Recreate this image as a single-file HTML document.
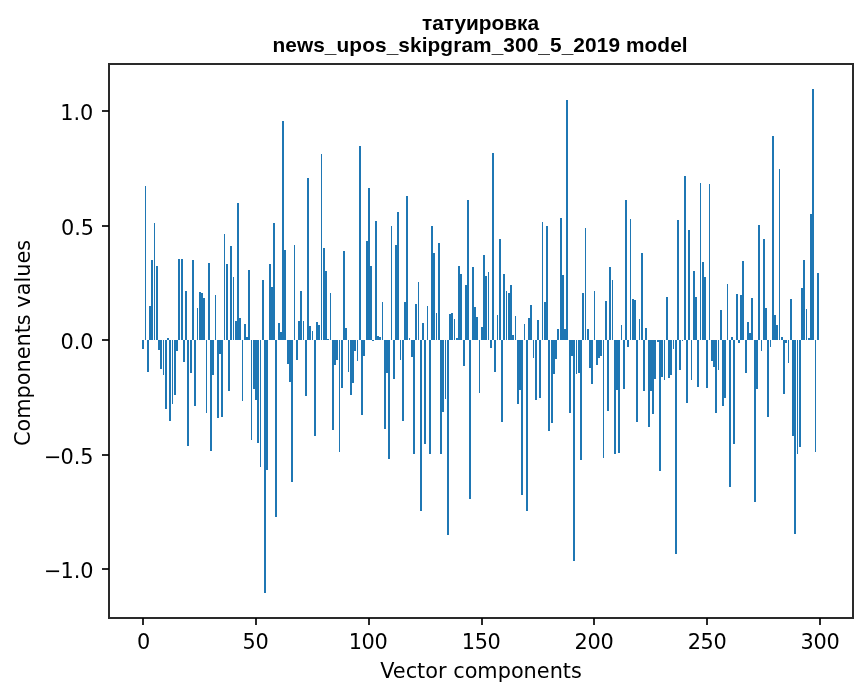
<!DOCTYPE html>
<html lang="ru"><head><meta charset="utf-8"><title>татуировка — news_upos_skipgram_300_5_2019 model</title>
<style>
html,body{margin:0;padding:0;background:#fff;}
body{width:867px;height:696px;position:relative;overflow:hidden;}
svg{position:absolute;left:0;top:0;display:block;}
.t{position:absolute;font-family:"DejaVu Sans","Liberation Sans",sans-serif;font-size:20.8333px;line-height:25px;color:#000;white-space:nowrap;}
.r{text-align:right;}
.c{width:200px;text-align:center;}
.ti{width:600px;text-align:center;font-family:"Liberation Sans","DejaVu Sans",sans-serif;font-weight:bold;}
.m{margin-right:-1px;}
.xt{letter-spacing:-0.3px;}
.t2{letter-spacing:0.09px;}
.yl{transform:translate(-50%,-50%) rotate(-90deg);transform-origin:center;}
</style></head><body>
<svg width="867" height="696" viewBox="0 0 867 696" shape-rendering="crispEdges">
<g fill="#1f77b4">
<rect x="142" y="340" width="2" height="9"/>
<rect x="145" y="186" width="1" height="154"/>
<rect x="147" y="340" width="2" height="32"/>
<rect x="149" y="306" width="2" height="34"/>
<rect x="151" y="260" width="2" height="80"/>
<rect x="154" y="223" width="1" height="117"/>
<rect x="156" y="266" width="2" height="74"/>
<rect x="158" y="340" width="2" height="10"/>
<rect x="160" y="340" width="2" height="29"/>
<rect x="163" y="340" width="1" height="35"/>
<rect x="165" y="340" width="2" height="69"/>
<rect x="167" y="338" width="2" height="2"/>
<rect x="169" y="340" width="2" height="81"/>
<rect x="172" y="340" width="1" height="64"/>
<rect x="174" y="340" width="2" height="55"/>
<rect x="176" y="340" width="2" height="11"/>
<rect x="178" y="259" width="2" height="81"/>
<rect x="181" y="259" width="2" height="81"/>
<rect x="183" y="340" width="2" height="22"/>
<rect x="185" y="291" width="2" height="49"/>
<rect x="187" y="340" width="2" height="106"/>
<rect x="190" y="340" width="2" height="33"/>
<rect x="192" y="260" width="2" height="80"/>
<rect x="194" y="340" width="2" height="66"/>
<rect x="197" y="308" width="1" height="32"/>
<rect x="199" y="292" width="2" height="48"/>
<rect x="201" y="293" width="2" height="47"/>
<rect x="203" y="298" width="2" height="42"/>
<rect x="206" y="340" width="1" height="73"/>
<rect x="208" y="263" width="2" height="77"/>
<rect x="210" y="340" width="2" height="111"/>
<rect x="212" y="340" width="2" height="35"/>
<rect x="215" y="295" width="1" height="45"/>
<rect x="217" y="340" width="2" height="78"/>
<rect x="219" y="340" width="2" height="14"/>
<rect x="221" y="340" width="2" height="77"/>
<rect x="224" y="234" width="1" height="106"/>
<rect x="226" y="264" width="2" height="76"/>
<rect x="228" y="340" width="2" height="51"/>
<rect x="230" y="246" width="2" height="94"/>
<rect x="233" y="277" width="1" height="63"/>
<rect x="235" y="321" width="2" height="19"/>
<rect x="237" y="203" width="2" height="137"/>
<rect x="239" y="318" width="2" height="22"/>
<rect x="242" y="340" width="1" height="61"/>
<rect x="244" y="324" width="2" height="16"/>
<rect x="246" y="337" width="2" height="3"/>
<rect x="248" y="270" width="2" height="70"/>
<rect x="251" y="340" width="1" height="100"/>
<rect x="253" y="340" width="2" height="49"/>
<rect x="255" y="340" width="2" height="60"/>
<rect x="257" y="340" width="2" height="103"/>
<rect x="260" y="340" width="1" height="127"/>
<rect x="262" y="280" width="2" height="60"/>
<rect x="264" y="340" width="2" height="253"/>
<rect x="266" y="340" width="2" height="130"/>
<rect x="269" y="264" width="2" height="76"/>
<rect x="271" y="287" width="2" height="53"/>
<rect x="273" y="223" width="2" height="117"/>
<rect x="275" y="340" width="2" height="177"/>
<rect x="278" y="323" width="2" height="17"/>
<rect x="280" y="332" width="2" height="8"/>
<rect x="282" y="121" width="2" height="219"/>
<rect x="284" y="250" width="2" height="90"/>
<rect x="287" y="340" width="2" height="24"/>
<rect x="289" y="340" width="2" height="42"/>
<rect x="291" y="340" width="2" height="142"/>
<rect x="294" y="245" width="1" height="95"/>
<rect x="296" y="340" width="2" height="20"/>
<rect x="298" y="321" width="2" height="19"/>
<rect x="300" y="291" width="2" height="49"/>
<rect x="303" y="321" width="1" height="19"/>
<rect x="305" y="340" width="2" height="56"/>
<rect x="307" y="178" width="2" height="162"/>
<rect x="309" y="326" width="2" height="14"/>
<rect x="312" y="331" width="1" height="9"/>
<rect x="314" y="340" width="2" height="96"/>
<rect x="316" y="322" width="2" height="18"/>
<rect x="318" y="325" width="2" height="15"/>
<rect x="321" y="154" width="1" height="186"/>
<rect x="323" y="248" width="2" height="92"/>
<rect x="325" y="271" width="2" height="69"/>
<rect x="327" y="339" width="2" height="1"/>
<rect x="330" y="293" width="1" height="47"/>
<rect x="332" y="340" width="2" height="90"/>
<rect x="334" y="340" width="2" height="25"/>
<rect x="336" y="340" width="2" height="20"/>
<rect x="339" y="340" width="1" height="112"/>
<rect x="341" y="340" width="2" height="48"/>
<rect x="343" y="251" width="2" height="89"/>
<rect x="345" y="328" width="2" height="12"/>
<rect x="348" y="340" width="1" height="32"/>
<rect x="350" y="340" width="2" height="55"/>
<rect x="352" y="340" width="2" height="43"/>
<rect x="354" y="340" width="2" height="11"/>
<rect x="357" y="340" width="1" height="21"/>
<rect x="359" y="146" width="2" height="194"/>
<rect x="361" y="340" width="2" height="75"/>
<rect x="363" y="340" width="2" height="16"/>
<rect x="366" y="241" width="2" height="99"/>
<rect x="368" y="188" width="2" height="152"/>
<rect x="370" y="266" width="2" height="74"/>
<rect x="372" y="340" width="2" height="1"/>
<rect x="375" y="221" width="2" height="119"/>
<rect x="377" y="336" width="2" height="4"/>
<rect x="379" y="337" width="2" height="3"/>
<rect x="382" y="302" width="1" height="38"/>
<rect x="384" y="340" width="2" height="89"/>
<rect x="386" y="340" width="2" height="33"/>
<rect x="388" y="340" width="2" height="119"/>
<rect x="391" y="226" width="1" height="114"/>
<rect x="393" y="340" width="2" height="39"/>
<rect x="395" y="245" width="2" height="95"/>
<rect x="397" y="212" width="2" height="128"/>
<rect x="400" y="340" width="1" height="20"/>
<rect x="402" y="340" width="2" height="81"/>
<rect x="404" y="302" width="2" height="38"/>
<rect x="406" y="196" width="2" height="144"/>
<rect x="409" y="338" width="1" height="2"/>
<rect x="411" y="340" width="2" height="17"/>
<rect x="413" y="340" width="2" height="114"/>
<rect x="415" y="304" width="2" height="36"/>
<rect x="418" y="282" width="1" height="58"/>
<rect x="420" y="340" width="2" height="171"/>
<rect x="422" y="323" width="2" height="17"/>
<rect x="424" y="340" width="2" height="104"/>
<rect x="427" y="306" width="1" height="34"/>
<rect x="429" y="340" width="2" height="114"/>
<rect x="431" y="226" width="2" height="114"/>
<rect x="433" y="253" width="2" height="87"/>
<rect x="436" y="313" width="1" height="27"/>
<rect x="438" y="243" width="2" height="97"/>
<rect x="440" y="340" width="2" height="114"/>
<rect x="442" y="340" width="2" height="72"/>
<rect x="445" y="340" width="1" height="59"/>
<rect x="447" y="340" width="2" height="195"/>
<rect x="449" y="314" width="2" height="26"/>
<rect x="451" y="313" width="2" height="27"/>
<rect x="454" y="319" width="1" height="21"/>
<rect x="456" y="338" width="2" height="2"/>
<rect x="458" y="266" width="2" height="74"/>
<rect x="460" y="274" width="2" height="66"/>
<rect x="463" y="340" width="2" height="26"/>
<rect x="465" y="285" width="2" height="55"/>
<rect x="467" y="200" width="2" height="140"/>
<rect x="469" y="340" width="2" height="159"/>
<rect x="472" y="267" width="2" height="73"/>
<rect x="474" y="307" width="2" height="33"/>
<rect x="476" y="317" width="2" height="23"/>
<rect x="479" y="340" width="1" height="53"/>
<rect x="481" y="327" width="2" height="13"/>
<rect x="483" y="255" width="2" height="85"/>
<rect x="485" y="276" width="2" height="64"/>
<rect x="488" y="272" width="1" height="68"/>
<rect x="490" y="340" width="2" height="8"/>
<rect x="492" y="153" width="2" height="187"/>
<rect x="494" y="340" width="2" height="32"/>
<rect x="497" y="315" width="1" height="25"/>
<rect x="499" y="239" width="2" height="101"/>
<rect x="501" y="340" width="2" height="82"/>
<rect x="503" y="274" width="2" height="66"/>
<rect x="506" y="291" width="1" height="49"/>
<rect x="508" y="293" width="2" height="47"/>
<rect x="510" y="285" width="2" height="55"/>
<rect x="512" y="335" width="2" height="5"/>
<rect x="515" y="316" width="1" height="24"/>
<rect x="517" y="340" width="2" height="64"/>
<rect x="519" y="340" width="2" height="50"/>
<rect x="521" y="340" width="2" height="155"/>
<rect x="524" y="324" width="1" height="16"/>
<rect x="526" y="340" width="2" height="171"/>
<rect x="528" y="318" width="2" height="22"/>
<rect x="530" y="305" width="2" height="35"/>
<rect x="533" y="340" width="1" height="18"/>
<rect x="535" y="340" width="2" height="60"/>
<rect x="537" y="320" width="2" height="20"/>
<rect x="539" y="340" width="2" height="58"/>
<rect x="542" y="222" width="1" height="118"/>
<rect x="544" y="302" width="2" height="38"/>
<rect x="546" y="226" width="2" height="114"/>
<rect x="548" y="340" width="2" height="91"/>
<rect x="551" y="340" width="2" height="83"/>
<rect x="553" y="340" width="2" height="34"/>
<rect x="555" y="340" width="2" height="19"/>
<rect x="557" y="329" width="2" height="11"/>
<rect x="560" y="218" width="2" height="122"/>
<rect x="562" y="275" width="2" height="65"/>
<rect x="564" y="329" width="2" height="11"/>
<rect x="566" y="100" width="2" height="240"/>
<rect x="569" y="340" width="2" height="73"/>
<rect x="571" y="340" width="2" height="16"/>
<rect x="573" y="340" width="2" height="221"/>
<rect x="576" y="340" width="1" height="34"/>
<rect x="578" y="340" width="2" height="33"/>
<rect x="580" y="340" width="2" height="120"/>
<rect x="582" y="293" width="2" height="47"/>
<rect x="585" y="228" width="1" height="112"/>
<rect x="587" y="329" width="2" height="11"/>
<rect x="589" y="340" width="2" height="28"/>
<rect x="591" y="340" width="2" height="44"/>
<rect x="594" y="291" width="1" height="49"/>
<rect x="596" y="340" width="2" height="25"/>
<rect x="598" y="340" width="2" height="18"/>
<rect x="600" y="340" width="2" height="16"/>
<rect x="603" y="340" width="1" height="118"/>
<rect x="605" y="301" width="2" height="39"/>
<rect x="607" y="340" width="2" height="71"/>
<rect x="609" y="267" width="2" height="73"/>
<rect x="612" y="280" width="1" height="60"/>
<rect x="614" y="340" width="2" height="114"/>
<rect x="616" y="340" width="2" height="50"/>
<rect x="618" y="340" width="2" height="113"/>
<rect x="621" y="325" width="1" height="15"/>
<rect x="623" y="340" width="2" height="49"/>
<rect x="625" y="200" width="2" height="140"/>
<rect x="627" y="340" width="2" height="7"/>
<rect x="630" y="219" width="1" height="121"/>
<rect x="632" y="299" width="2" height="41"/>
<rect x="634" y="300" width="2" height="40"/>
<rect x="636" y="340" width="2" height="82"/>
<rect x="639" y="319" width="1" height="21"/>
<rect x="641" y="253" width="2" height="87"/>
<rect x="643" y="340" width="2" height="51"/>
<rect x="645" y="328" width="2" height="12"/>
<rect x="648" y="340" width="2" height="87"/>
<rect x="650" y="340" width="2" height="51"/>
<rect x="652" y="340" width="2" height="74"/>
<rect x="654" y="340" width="2" height="39"/>
<rect x="657" y="340" width="2" height="2"/>
<rect x="659" y="340" width="2" height="131"/>
<rect x="661" y="340" width="2" height="37"/>
<rect x="664" y="340" width="1" height="40"/>
<rect x="666" y="297" width="2" height="43"/>
<rect x="668" y="340" width="2" height="38"/>
<rect x="670" y="340" width="2" height="35"/>
<rect x="673" y="340" width="1" height="9"/>
<rect x="675" y="340" width="2" height="214"/>
<rect x="677" y="220" width="2" height="120"/>
<rect x="679" y="340" width="2" height="30"/>
<rect x="682" y="340" width="1" height="1"/>
<rect x="684" y="176" width="2" height="164"/>
<rect x="686" y="340" width="2" height="63"/>
<rect x="688" y="230" width="2" height="110"/>
<rect x="691" y="340" width="1" height="40"/>
<rect x="693" y="271" width="2" height="69"/>
<rect x="695" y="297" width="2" height="43"/>
<rect x="697" y="340" width="2" height="47"/>
<rect x="700" y="183" width="1" height="157"/>
<rect x="702" y="262" width="2" height="78"/>
<rect x="704" y="277" width="2" height="63"/>
<rect x="706" y="340" width="2" height="48"/>
<rect x="709" y="184" width="1" height="156"/>
<rect x="711" y="340" width="2" height="21"/>
<rect x="713" y="340" width="2" height="27"/>
<rect x="715" y="340" width="2" height="73"/>
<rect x="718" y="340" width="1" height="30"/>
<rect x="720" y="310" width="2" height="30"/>
<rect x="722" y="340" width="2" height="66"/>
<rect x="724" y="340" width="2" height="58"/>
<rect x="727" y="284" width="1" height="56"/>
<rect x="729" y="340" width="2" height="147"/>
<rect x="731" y="337" width="2" height="3"/>
<rect x="733" y="340" width="2" height="104"/>
<rect x="736" y="294" width="2" height="46"/>
<rect x="738" y="340" width="2" height="3"/>
<rect x="740" y="295" width="2" height="45"/>
<rect x="742" y="261" width="2" height="79"/>
<rect x="745" y="340" width="2" height="33"/>
<rect x="747" y="322" width="2" height="18"/>
<rect x="749" y="333" width="2" height="7"/>
<rect x="751" y="298" width="2" height="42"/>
<rect x="754" y="340" width="2" height="162"/>
<rect x="756" y="340" width="2" height="49"/>
<rect x="758" y="225" width="2" height="115"/>
<rect x="761" y="340" width="1" height="11"/>
<rect x="763" y="239" width="2" height="101"/>
<rect x="765" y="308" width="2" height="32"/>
<rect x="767" y="340" width="2" height="77"/>
<rect x="770" y="340" width="1" height="7"/>
<rect x="772" y="136" width="2" height="204"/>
<rect x="774" y="315" width="2" height="25"/>
<rect x="776" y="325" width="2" height="15"/>
<rect x="779" y="169" width="1" height="171"/>
<rect x="781" y="337" width="2" height="3"/>
<rect x="783" y="340" width="2" height="54"/>
<rect x="785" y="340" width="2" height="3"/>
<rect x="788" y="340" width="1" height="23"/>
<rect x="790" y="299" width="2" height="41"/>
<rect x="792" y="340" width="2" height="96"/>
<rect x="794" y="340" width="2" height="194"/>
<rect x="797" y="340" width="1" height="114"/>
<rect x="799" y="340" width="2" height="107"/>
<rect x="801" y="288" width="2" height="52"/>
<rect x="803" y="260" width="2" height="80"/>
<rect x="806" y="309" width="1" height="31"/>
<rect x="808" y="338" width="2" height="2"/>
<rect x="810" y="214" width="2" height="126"/>
<rect x="812" y="89" width="2" height="251"/>
<rect x="815" y="340" width="1" height="112"/>
<rect x="817" y="273" width="2" height="67"/>
</g>
<g fill="#000" fill-opacity="0.835">
<rect x="108" y="63" width="2" height="556"/>
<rect x="852" y="63" width="2" height="556"/>
<rect x="110" y="63" width="742" height="2"/>
<rect x="110" y="617" width="742" height="2"/>
<rect x="102" y="110" width="7" height="2"/>
<rect x="102" y="225" width="7" height="2"/>
<rect x="102" y="339" width="7" height="2"/>
<rect x="102" y="454" width="7" height="2"/>
<rect x="102" y="568" width="7" height="2"/>
<rect x="142" y="618" width="2" height="7"/>
<rect x="255" y="618" width="2" height="7"/>
<rect x="368" y="618" width="2" height="7"/>
<rect x="481" y="618" width="2" height="7"/>
<rect x="593" y="618" width="2" height="7"/>
<rect x="706" y="618" width="2" height="7"/>
<rect x="819" y="618" width="2" height="7"/>
</g>
</svg>
<div class="t r" style="right:773.68px;top:100.68px">1.0</div>
<div class="t r" style="right:772.99px;top:215.78px">0.5</div>
<div class="t r" style="right:773.47px;top:329.72px">0.0</div>
<div class="t r" style="right:773.39px;top:444.72px"><span class="m">−</span>0.5</div>
<div class="t r" style="right:773.45px;top:558.62px"><span class="m">−</span>1.0</div>
<div class="t c xt" style="left:43.39px;top:630.20px">0</div>
<div class="t c xt" style="left:155.52px;top:630.26px">50</div>
<div class="t c xt" style="left:268.08px;top:630.17px">100</div>
<div class="t c xt" style="left:381.16px;top:630.21px">150</div>
<div class="t c xt" style="left:494.00px;top:630.12px">200</div>
<div class="t c xt" style="left:607.08px;top:630.16px">250</div>
<div class="t c xt" style="left:720.06px;top:630.18px">300</div>
<div class="t c" style="left:281.04px;top:658.99px;width:400px">Vector components</div>
<div class="t yl" style="left:23.02px;top:343.16px">Components values</div>
<div class="t ti" style="left:180.54px;top:10.11px">татуировка</div>
<div class="t ti t2" style="left:180.09px;top:32.10px">news_upos_skipgram_300_5_2019 model</div>
</body></html>
